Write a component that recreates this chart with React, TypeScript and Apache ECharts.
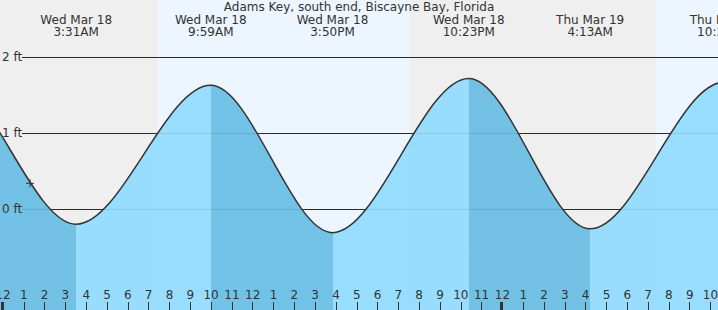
import React, { useEffect, useRef } from 'react';
import * as echarts from 'echarts';

const TITLE = 'Adams Key, south end, Biscayne Bay, Florida';
const FONT = 'DejaVu Sans';
const TEXT = '#333333';

// Tide extremes, minutes since Wed Mar 18 00:00 (first two and last are off-chart)
const extremeMinutes = [-545, -168, 211, 599, 950, 1343, 1693, 2078, 2455];
const extremeFeet = [-0.25, 1.75, -0.2, 1.63, -0.31, 1.72, -0.26, 1.67, -0.3];
const extremeDay = ['', '', 'Wed Mar 18', 'Wed Mar 18', 'Wed Mar 18', 'Wed Mar 18', 'Thu Mar 19', 'Thu Mar 19', ''];
const extremeClock = ['', '', '3:31AM', '9:59AM', '3:50PM', '10:23PM', '4:13AM', '10:38AM', ''];

// Daylight periods (sunrise, sunset), minutes since Wed Mar 18 00:00
const daylightMinutes = [
  [445, 1173],
  [1883, 2614],
];

// Hour ticks along the bottom
const hourTicks = [
  0, 1, 2, 3, 4, 5, 6, 7, 8, 9, 10, 11, 12, 13, 14, 15, 16, 17, 18, 19, 20, 21, 22, 23, 24,
  25, 26, 27, 28, 29, 30, 31, 32, 33, 34,
];
const hourLabels = [
  '12', '1', '2', '3', '4', '5', '6', '7', '8', '9', '10', '11',
  '12', '1', '2', '3', '4', '5', '6', '7', '8', '9', '10', '11',
  '12', '1', '2', '3', '4', '5', '6', '7', '8', '9', '10',
];
const midnightHours = [0, 24];

// Level ticks
const feetTicks = [0, 1, 2];

// Current-time marker (minutes, feet)
const nowMinutes = 78;
const nowFeet = 0.34;

// Visible window
const xRangeHours = [-0.144, 34.36];
const yRangeFeet = [-1.329, 2.754];

const NIGHT = '#efefef';
const DAY = '#edf6fe';
const RISE = '#8fdbff';
const FALL = '#65bce4';

export default function App() {
  const ref = useRef<HTMLDivElement>(null);

  useEffect(() => {
    if (!ref.current) return;
    const chart = echarts.init(ref.current, undefined, { renderer: 'svg' });

    const tideData = extremeMinutes.map((m, i) => [m / 60, extremeFeet[i]]);
    const pieces: any[] = [];
    for (let i = 0; i < extremeMinutes.length - 1; i++) {
      pieces.push({
        gte: extremeMinutes[i] / 60,
        lt: extremeMinutes[i + 1] / 60,
        color: extremeFeet[i + 1] < extremeFeet[i] ? FALL : RISE,
      });
    }

    const option: any = {
      animation: false,
      textStyle: { fontFamily: FONT },
      title: {
        text: TITLE,
        left: 'center',
        top: 1,
        padding: 0,
        textStyle: { fontSize: 12, fontWeight: 'normal', color: TEXT, fontFamily: FONT },
      },
      grid: {
        left: 0,
        right: 0,
        top: 0,
        bottom: 0,
        containLabel: false,
        outerBoundsMode: 'none',
        show: true,
        backgroundColor: NIGHT,
        borderWidth: 0,
      },
      xAxis: {
        type: 'value',
        min: xRangeHours[0],
        max: xRangeHours[1],
        position: 'bottom',
        z: 10,
        axisLine: { show: false, onZero: false },
        splitLine: { show: false },
        axisTick: {
          show: true,
          inside: true,
          length: 8,
          customValues: hourTicks,
          lineStyle: { color: TEXT, width: 1 },
        },
        axisLabel: {
          show: true,
          inside: true,
          margin: 9,
          customValues: hourTicks,
          formatter: (v: number) => hourLabels[Math.round(v)] ?? '',
          color: TEXT,
          fontSize: 12,
          fontFamily: FONT,
        },
      },
      yAxis: {
        type: 'value',
        min: yRangeFeet[0],
        max: yRangeFeet[1],
        position: 'left',
        z: 10,
        axisLine: { show: false, onZero: false },
        axisTick: { show: false },
        splitLine: { show: false },
        axisLabel: {
          inside: true,
          margin: 2,
          customValues: feetTicks,
          formatter: (v: number) => `${v} ft`,
          color: TEXT,
          fontSize: 12,
          fontFamily: FONT,
        },
      },
      visualMap: {
        type: 'piecewise',
        show: false,
        dimension: 0,
        seriesIndex: 2,
        pieces,
        outOfRange: { color: RISE },
      },
      series: [
        {
          type: 'custom',
          z: 1,
          silent: true,
          clip: true,
          data: daylightMinutes.map(([a, b]) => [a / 60, b / 60]),
          renderItem: (params: any, api: any) => {
            const cs = params.coordSys;
            const x0 = api.coord([api.value(0), 0])[0];
            const x1 = api.coord([api.value(1), 0])[0];
            return {
              type: 'rect',
              shape: { x: x0, y: cs.y, width: x1 - x0, height: cs.height },
              style: { fill: DAY },
            };
          },
        },
        {
          type: 'custom',
          z: 2,
          silent: true,
          clip: true,
          data: feetTicks.map((v) => [xRangeHours[0], v]),
          renderItem: (params: any, api: any) => {
            const cs = params.coordSys;
            const y = Math.round(api.coord([api.value(0), api.value(1)])[1]) + 0.5;
            return {
              type: 'line',
              shape: { x1: cs.x + 22, y1: y, x2: cs.x + cs.width, y2: y },
              style: { stroke: '#2a2a2a', lineWidth: 1 },
            };
          },
        },
        {
          type: 'line',
          z: 3,
          silent: true,
          data: tideData,
          smooth: 0.3333,
          smoothMonotone: 'x',
          showSymbol: false,
          symbol: 'none',
          clip: true,
          lineStyle: { color: '#333333', width: 1.5 },
          areaStyle: { opacity: 0.9, origin: 'start' },
        },
        {
          type: 'scatter',
          z: 4,
          silent: true,
          data: [[nowMinutes / 60, nowFeet]],
          symbol: 'path://M0,3.5H7M3.5,0V7',
          symbolSize: 8,
          itemStyle: { color: 'rgba(0,0,0,0)', borderColor: '#333333', borderWidth: 1.2 },
        },
        {
          type: 'custom',
          z: 5,
          silent: true,
          clip: false,
          data: tideData,
          renderItem: (params: any, api: any) => {
            const i = params.dataIndex;
            if (!extremeDay[i]) return null;
            const cs = params.coordSys;
            const x = api.coord([api.value(0), api.value(1)])[0];
            return {
              type: 'group',
              children: [
                {
                  type: 'text',
                  x,
                  y: cs.y + 14,
                  style: {
                    text: extremeDay[i],
                    fill: TEXT,
                    font: `12px "${FONT}"`,
                    align: 'center',
                    verticalAlign: 'top',
                    lineHeight: 12,
                  },
                },
                {
                  type: 'text',
                  x,
                  y: cs.y + 26,
                  style: {
                    text: extremeClock[i],
                    fill: TEXT,
                    font: `12px "${FONT}"`,
                    align: 'center',
                    verticalAlign: 'top',
                    lineHeight: 12,
                  },
                },
              ],
            };
          },
        },
        {
          type: 'custom',
          z: 11,
          silent: true,
          clip: true,
          data: midnightHours.map((h) => [h, 0]),
          renderItem: (params: any, api: any) => {
            const cs = params.coordSys;
            const x = Math.round(api.coord([api.value(0), 0])[0]);
            return {
              type: 'rect',
              shape: { x: x - 2, y: cs.y + cs.height - 8, width: 3, height: 8 },
              style: { fill: TEXT },
            };
          },
        },
      ],
    };

    chart.setOption(option);
    return () => chart.dispose();
  }, []);

  return (
    <div
      ref={ref}
      style={{ position: 'absolute', left: 0, top: 0, width: 718, height: 310 }}
    />
  );
}
